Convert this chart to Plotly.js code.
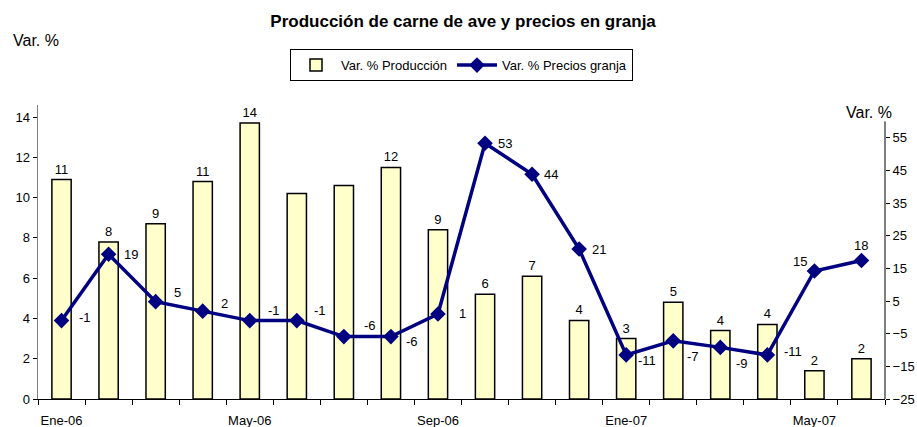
<!DOCTYPE html>
<html>
<head>
<meta charset="utf-8">
<script src="https://cdn.plot.ly/plotly-3.0.1.min.js"></script>
<style>html,body{margin:0;padding:0;background:#fff;}#chart{width:917px;height:427px;}</style>
</head>
<body>
<div id="chart"></div>
<script>
const months = ["Ene-06","Feb-06","Mar-06","Abr-06","May-06","Jun-06","Jul-06","Ago-06","Sep-06","Oct-06","Nov-06","Dic-06","Ene-07","Feb-07","Mar-07","Abr-07","May-07","Jun-07"];
const tickLabels = ["Ene-06","","","","May-06","","","","Sep-06","","","","Ene-07","","","","May-07",""];
const produccion = [10.9, 7.8, 8.7, 10.8, 13.7, 10.2, 10.6, 11.5, 8.4, 5.2, 6.1, 3.9, 3.0, 4.8, 3.4, 3.7, 1.4, 2.0];
const produccionLabels = ["11","8","9","11","14","","","12","9","6","7","4","3","5","4","4","2","2"];
const precios = [-1, 19.3, 4.8, 1.9, -1, -1, -5.9, -5.9, 1.0, 53.3, 43.8, 20.9, -11.5, -7.2, -9.2, -11.5, 14.2, 17.4];
const preciosLabels = ["-1","19","5","2","-1","-1","-6","-6","1","53","44","21","-11","-7","-9","-11","15","18"];
const leftTicks = [0, 2, 4, 6, 8, 10, 12, 14];
const rightTicks = [-25, -15, -5, 5, 15, 25, 35, 45, 55];

// label placement (styling only): anchor and pixel shifts relative to each marker
const lblAnchor = ["left","left","left","left","left","left","left","left","left","left","left","left","left","left","left","left","right","center"];
const lblDx = [15, 13, 16, 16, 16, 15, 18, 13, 19, 11, 10, 11, 10, 12, 14, 15, -5, 0];
const lblDy = [3, 0, 9, 8, 10, 10, 11, -5, 1, 0, 0, 0, -6, -16, -16, 3, 9, 15];

const FONT = "Liberation Sans, Arial, sans-serif";

const traces = [
  {
    type: "bar",
    name: "Var. % Producción",
    x: months,
    y: produccion,
    text: produccionLabels,
    textposition: "outside",
    cliponaxis: false,
    textfont: {family: FONT, size: 13, color: "#000"},
    marker: {color: "#FFFFCC", line: {color: "#000", width: 1.5}},
    hoverinfo: "skip"
  },
  {
    type: "scatter",
    mode: "lines+markers",
    name: "Var. % Precios granja",
    x: months,
    y: precios,
    yaxis: "y2",
    cliponaxis: false,
    line: {color: "#000080", width: 3.5},
    marker: {symbol: "diamond", size: 12, color: "#000080"},
    hoverinfo: "skip"
  }
];

const lineAnnotations = months.map((m, i) => ({
  x: m, y: precios[i], xref: "x", yref: "y2",
  text: preciosLabels[i],
  showarrow: false,
  xanchor: lblAnchor[i], yanchor: "middle",
  xshift: lblDx[i], yshift: lblDy[i],
  font: {family: FONT, size: 13, color: "#000"}
}));

const layout = {
  width: 917,
  height: 427,
  paper_bgcolor: "#fff",
  plot_bgcolor: "#fff",
  margin: {l: 38, r: 32, t: 105, b: 28},
  font: {family: FONT, size: 13, color: "#000"},
  title: {
    text: "<b>Producción de carne de ave y precios en granja</b>",
    font: {family: FONT, size: 17, color: "#000"},
    x: 0.505, xanchor: "center",
    y: 0.951, yanchor: "middle"
  },
  bargap: 0.59,
  showlegend: true,
  legend: {
    orientation: "h",
    x: 0.5, xanchor: "center",
    y: 1.19, yanchor: "top",
    bordercolor: "#000", borderwidth: 1,
    itemwidth: 40,
    font: {family: FONT, size: 13, color: "#000"}
  },
  xaxis: {
    type: "category",
    tickmode: "array",
    tickvals: months,
    ticktext: tickLabels,
    tickangle: 0,
    tickson: "boundaries",
    ticks: "outside",
    ticklen: 5,
    tickcolor: "#000",
    ticklabelstandoff: 9,
    showline: true,
    linecolor: "#000",
    linewidth: 1,
    showgrid: false,
    zeroline: false,
    tickfont: {family: FONT, size: 13, color: "#000"},
    range: [-0.5, 17.5]
  },
  yaxis: {
    range: [0, 14.6],
    tickmode: "array",
    tickvals: leftTicks,
    ticks: "outside",
    ticklen: 4,
    tickcolor: "#000",
    showline: true,
    linecolor: "#808080",
    linewidth: 1.5,
    showgrid: false,
    zeroline: false,
    tickfont: {family: FONT, size: 13, color: "#000"}
  },
  yaxis2: {
    overlaying: "y",
    side: "right",
    range: [-25, 65],
    tickmode: "array",
    tickvals: rightTicks,
    ticks: "outside",
    ticklen: 4,
    tickcolor: "#000",
    showline: false,
    showgrid: false,
    zeroline: false,
    tickfont: {family: FONT, size: 13, color: "#000"}
  },
  shapes: [
    {type: "line", xref: "paper", x0: 1, x1: 1, yref: "y2", y0: -25, y1: 60, line: {color: "#000", width: 1}}
  ],
  annotations: [
    {text: "Var. %", xref: "paper", yref: "paper", x: -0.032, xanchor: "left", y: 1.218, yanchor: "middle", showarrow: false, font: {family: FONT, size: 16, color: "#000"}},
    {text: "Var. %", xref: "paper", yref: "paper", x: 1.011, xanchor: "right", y: 0.973, yanchor: "middle", showarrow: false, font: {family: FONT, size: 16, color: "#000"}}
  ].concat(lineAnnotations)
};

Plotly.newPlot("chart", traces, layout, {staticPlot: true, displayModeBar: false});
</script>
</body>
</html>
